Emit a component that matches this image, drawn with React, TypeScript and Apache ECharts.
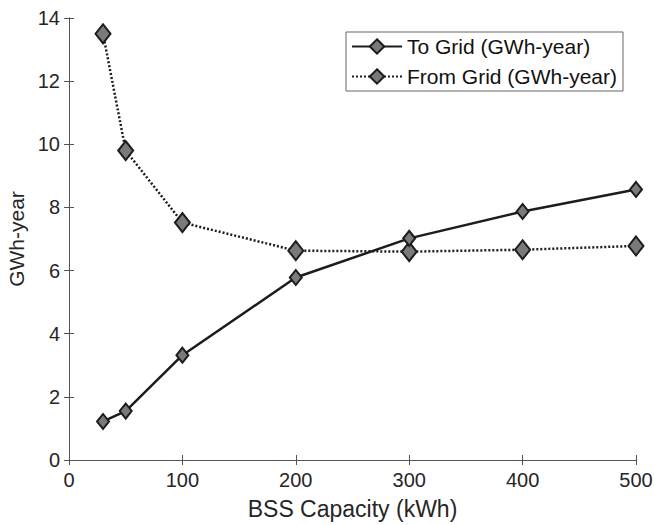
import React, { useEffect, useRef } from "react";
import * as echarts from "echarts";

const capacities = [30, 50, 100, 200, 300, 400, 500];
const toGrid = [1.22, 1.55, 3.32, 5.78, 7.02, 7.87, 8.57];
const fromGrid = [13.5, 9.8, 7.52, 6.63, 6.6, 6.66, 6.78];
const seriesNames = ["To Grid (GWh-year)", "From Grid (GWh-year)"];
const xTitle = "BSS Capacity (kWh)";
const yTitle = "GWh-year";

const FONT = "Liberation Sans, Arial, Helvetica, sans-serif";
const AXIS_COLOR = "#555";
const TEXT_COLOR = "#262626";

export default function App() {
  const ref = useRef<HTMLDivElement>(null);
  useEffect(() => {
    if (!ref.current) return;
    const chart = echarts.init(ref.current, undefined, { renderer: "svg" });
    const pair = (xs: number[], ys: number[]) => xs.map((x, i) => [x, ys[i]]);
    const hiddenAxisCommon = {
      axisLine: { show: true, lineStyle: { color: AXIS_COLOR, width: 1 } },
      axisTick: { show: true, inside: true, length: 5, lineStyle: { color: AXIS_COLOR } },
      axisLabel: { show: false },
      splitLine: { show: false },
    };
    chart.setOption({
      animation: false,
      backgroundColor: "#fff",
      grid: {
        left: 69,
        right: 18,
        top: 18,
        bottom: 65,
        containLabel: false,
        outerBoundsMode: "none",
      },
      legend: {
        right: 31,
        top: 32,
        orient: "vertical",
        backgroundColor: "#fff",
        borderColor: "#666",
        borderWidth: 1,
        borderRadius: 0,
        padding: [4, 6, 4, 5],
        itemGap: 9,
        itemWidth: 50,
        itemHeight: 18,
        textStyle: { fontFamily: FONT, fontSize: 21, color: "#111" },
        data: seriesNames,
      },
      xAxis: [
        {
          type: "value",
          min: 0,
          max: 500,
          interval: 100,
          position: "bottom",
          name: xTitle,
          nameLocation: "middle",
          nameGap: 37,
          nameTextStyle: { fontFamily: FONT, fontSize: 23, color: TEXT_COLOR },
          axisLine: { show: true, onZero: false, lineStyle: { color: AXIS_COLOR, width: 1 } },
          axisTick: { show: true, inside: true, length: 5, lineStyle: { color: AXIS_COLOR } },
          axisLabel: { fontFamily: FONT, fontSize: 20, color: TEXT_COLOR, margin: 10 },
          splitLine: { show: false },
        },
        {
          type: "value",
          min: 0,
          max: 500,
          interval: 100,
          position: "top",
          ...hiddenAxisCommon,
        },
      ],
      yAxis: [
        {
          type: "value",
          min: 0,
          max: 14,
          interval: 2,
          position: "left",
          name: yTitle,
          nameLocation: "middle",
          nameGap: 30,
          nameTextStyle: { fontFamily: FONT, fontSize: 21, color: TEXT_COLOR },
          axisLine: { show: true, onZero: false, lineStyle: { color: AXIS_COLOR, width: 1 } },
          axisTick: { show: true, inside: true, length: 5, lineStyle: { color: AXIS_COLOR } },
          axisLabel: { fontFamily: FONT, fontSize: 20, color: TEXT_COLOR, margin: 9 },
          splitLine: { show: false },
        },
        {
          type: "value",
          min: 0,
          max: 14,
          interval: 2,
          position: "right",
          ...hiddenAxisCommon,
        },
      ],
      series: [
        {
          name: seriesNames[0],
          type: "line",
          data: pair(capacities, toGrid),
          symbol: "diamond",
          symbolSize: [12, 15],
          showAllSymbol: true,
          lineStyle: { color: "#1c1c1c", width: 2.5, type: "solid" },
          itemStyle: { color: "#7a7a7a", borderColor: "#1c1c1c", borderWidth: 2 },
          z: 3,
        },
        {
          name: seriesNames[1],
          type: "line",
          data: pair(capacities, fromGrid),
          symbol: "diamond",
          symbolSize: [15, 19],
          showAllSymbol: true,
          lineStyle: { color: "#1c1c1c", width: 2.5, type: [2, 2] },
          itemStyle: { color: "#7a7a7a", borderColor: "#1c1c1c", borderWidth: 2 },
          z: 2,
        },
      ],
    });
    return () => chart.dispose();
  }, []);
  return (
    <div
      ref={ref}
      style={{ position: "fixed", left: 0, top: 0, width: 654, height: 525 }}
    />
  );
}
